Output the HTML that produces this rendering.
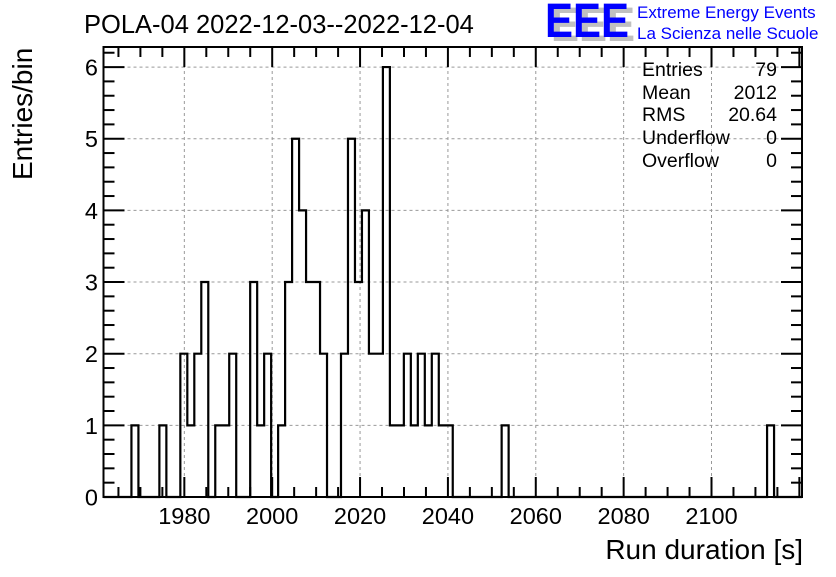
<!DOCTYPE html>
<html><head><meta charset="utf-8"><style>
body{margin:0;background:#fff;}
svg text{font-family:"Liberation Sans",sans-serif;}
</style></head><body>
<svg width="836" height="572" viewBox="0 0 836 572" xmlns="http://www.w3.org/2000/svg">
<rect width="836" height="572" fill="#fff"/>
<text x="84" y="33" font-size="25.5">POLA-04 2022-12-03--2022-12-04</text>
<g>
<text x="551" y="41" font-size="48" font-weight="bold" fill="#c0c0c0" textLength="84" lengthAdjust="spacingAndGlyphs">EEE</text>
<text x="545" y="37" font-size="48" font-weight="bold" fill="#0000ff" textLength="84" lengthAdjust="spacingAndGlyphs">EEE</text>
<text x="637" y="18" font-size="17" fill="#0000ff">Extreme Energy Events</text>
<text x="637" y="39" font-size="17" fill="#0000ff">La Scienza nelle Scuole</text>
</g>
<g id="grid"></g>
<g id="stats" font-size="19.5">
<text x="642" y="76">Entries</text><text x="777" y="76" text-anchor="end">79</text>
<text x="642" y="99">Mean</text><text x="777" y="99" text-anchor="end">2012</text>
<text x="642" y="121">RMS</text><text x="777" y="121" text-anchor="end">20.64</text>
<text x="642" y="144">Underflow</text><text x="777" y="144" text-anchor="end">0</text>
<text x="642" y="167">Overflow</text><text x="777" y="167" text-anchor="end">0</text>
</g>
<path id="hist" fill="none" stroke="#000" stroke-width="2.2"/>
<g id="axes"></g>
<text x="803" y="559" font-size="28" text-anchor="end">Run duration [s]</text>
<text transform="translate(32,180) rotate(-90)" font-size="28">Entries/bin</text>
</svg>
<script>
const binCounts = {4:1,8:1,11:2,12:1,13:2,14:3,16:1,17:1,18:2,21:3,22:1,23:2,25:1,26:3,27:5,28:4,29:3,30:3,31:2,34:2,35:5,36:3,37:4,38:2,39:2,40:6,41:1,42:1,43:2,44:1,45:2,46:1,47:2,48:1,49:1,57:1,95:1};
const nBins = 100;
const xMin = 1961.6, xMax = 2120.6;
const yMax = 6.28;
const xTicks = [1980,2000,2020,2040,2060,2080,2100];
const yTicks = [0,1,2,3,4,5,6];
const L=103.5,R=802,T=47,B=497;
const sx=v=>L+(v-xMin)/(xMax-xMin)*(R-L);
const sy=v=>B-v/yMax*(B-T);
const NS="http://www.w3.org/2000/svg";
function mk(tag,attrs,parent,txt){const e=document.createElementNS(NS,tag);for(const k in attrs)e.setAttribute(k,attrs[k]);if(txt!==undefined)e.textContent=txt;parent.appendChild(e);return e;}
const grid=document.getElementById('grid'),axes=document.getElementById('axes');
xTicks.forEach(v=>{const l=mk('line',{x1:sx(v),x2:sx(v),y1:T,y2:B,stroke:'#999','stroke-dasharray':'3,3','stroke-width':1},grid);
});
yTicks.forEach(v=>{if(v===0)return;const l=mk('line',{x1:L,x2:R,y1:sy(v),y2:sy(v),stroke:'#999','stroke-dasharray':'3,3','stroke-width':1},grid);
});
const bw=(xMax-xMin)/nBins;let d='M'+L+','+B;let prev=0;
for(let i=0;i<nBins;i++){const c=binCounts[i]||0;const x0=sx(xMin+i*bw),x1=sx(xMin+(i+1)*bw);
 if(c!==prev)d+=' L'+x0+','+sy(c);d+=' L'+x1+','+sy(c);prev=c;}
if(prev!==0)d+=' L'+R+','+B;
document.getElementById('hist').setAttribute('d',d);
const fr=mk('rect',{x:L,y:T,width:R-L,height:B-T,fill:'none',stroke:'#000','stroke-width':2},axes);

for(let v=1965;v<=2120;v+=5){const x=sx(v),maj=v%20===0,len=maj?20:10;
 mk('line',{x1:x,x2:x,y1:B,y2:B-len,stroke:'#000','stroke-width':2},axes);
 mk('line',{x1:x,x2:x,y1:T,y2:T+len,stroke:'#000','stroke-width':2},axes);}
xTicks.forEach(v=>{const t=mk('text',{x:sx(v),y:524,'font-size':23.5,'text-anchor':'middle'},axes,String(v));
 });
for(let v=0;v<=6.28;v+=0.2){const y=sy(v),maj=Math.abs(v-Math.round(v))<1e-6,len=maj?21:11;
 mk('line',{x1:L,x2:L+len,y1:y,y2:y,stroke:'#000','stroke-width':2},axes);
 mk('line',{x1:R,x2:R-len,y1:y,y2:y,stroke:'#000','stroke-width':2},axes);}
yTicks.forEach(v=>{const t=mk('text',{x:98,y:sy(v)+8.5,'font-size':23.5,'text-anchor':'end'},axes,String(v));
 });
</script>
</body></html>
